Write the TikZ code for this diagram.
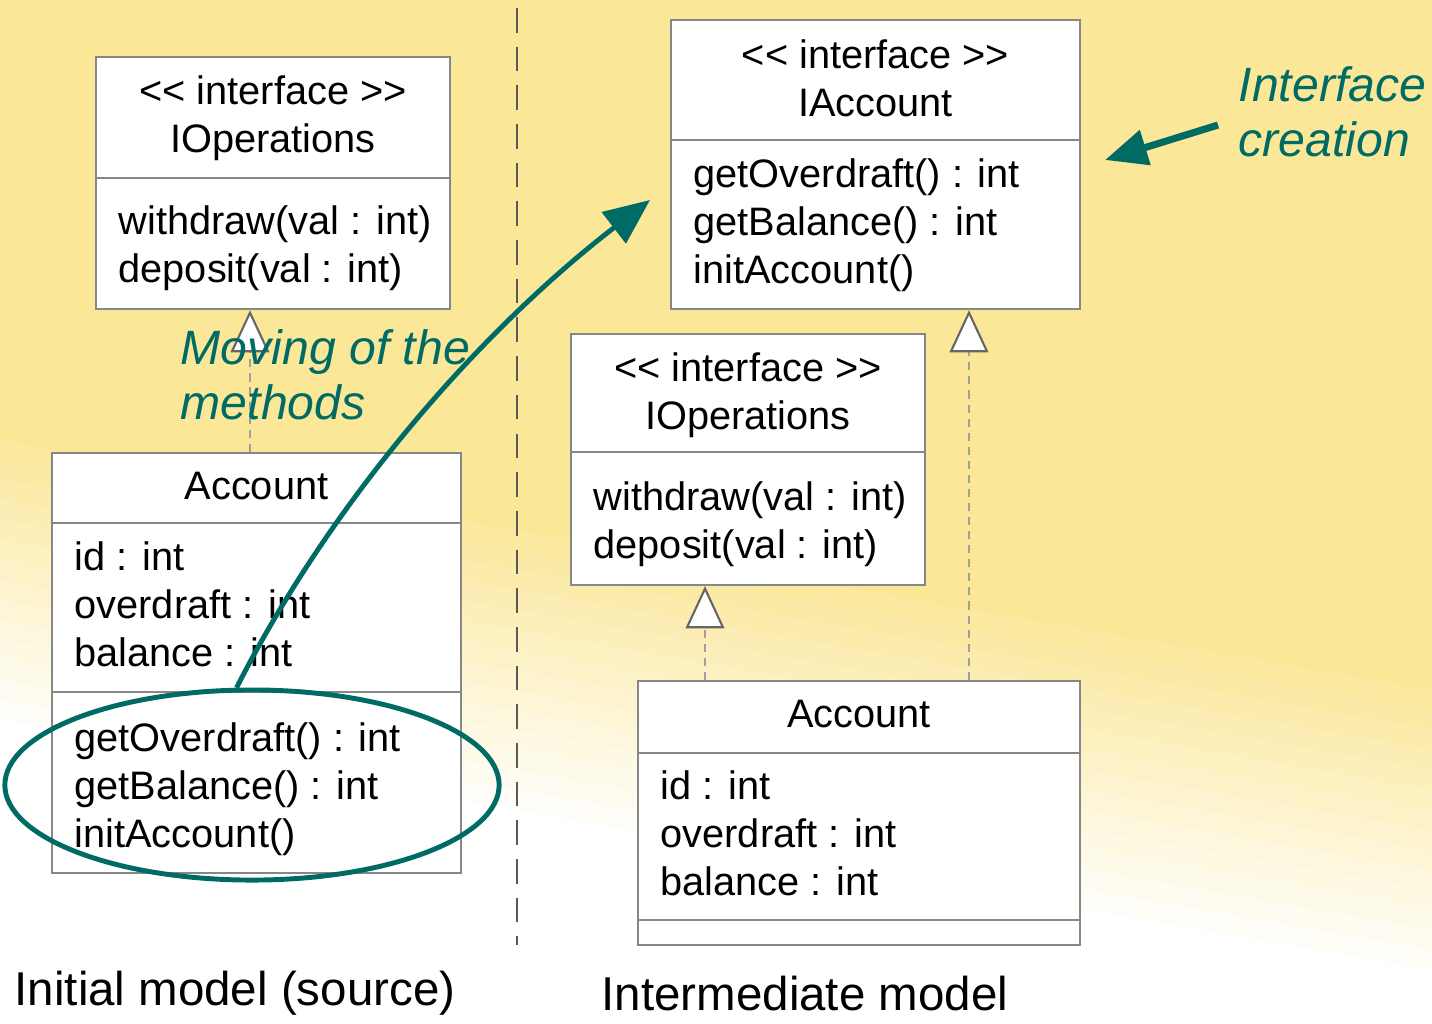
\documentclass[tikz,border=0pt]{standalone}
\usepackage{fontspec}
\setmainfont{Liberation Sans}
\usetikzlibrary{arrows.meta,shapes.geometric,calc}

\definecolor{bgyellow}{RGB}{250,231,152}
\definecolor{noteteal}{RGB}{0,106,101}
\definecolor{boxgray}{RGB}{135,135,135}

\tikzset{
    classbox/.style={draw=boxgray,fill=white,line width=0.6pt,inner sep=0pt},
    divider/.style={draw=boxgray,line width=0.6pt},
    member/.style={inner sep=0pt,font=\fontsize{11.3}{13.7}\selectfont},
    realize/.style={draw=gray!75,line width=0.8pt,dash pattern=on 2.3pt off 1.7pt,
        -{Triangle[length=12pt,width=11pt,color=black!60,fill=white,line width=0.6pt]}},
    sepline/.style={draw=black!65,line width=0.85pt,dash pattern=on 7pt off 4pt},
    note/.style={text=noteteal,font=\fontsize{13.7}{15.6}\selectfont\itshape,align=left,inner sep=0pt},
    caption/.style={inner sep=0pt,font=\fontsize{13.5}{16}\selectfont},
    move/.style={draw=noteteal,line width=1.4pt,-{Triangle[length=13pt,width=11pt]}},
    pointer/.style={draw=noteteal,line width=2pt,-{Triangle[length=12pt,width=10pt]}},
}

% stereotype brackets, kept apart so they stay two signs
\newcommand\stleft{<\kern0pt<}
\newcommand\stright{>\kern0pt>}

% one text line per member, 48 units apart
\newcommand\members[5]{%
    \foreach \m [count=\k] in {#5}
        \node[member,anchor=#2] (#1\k) at (#3,#4+48*\k-48) {\m};
}

\begin{document}
\begin{tikzpicture}[x=0.01cm,y=-0.01cm]
    \useasboundingbox (0,0) rectangle (1432,1023);

    % background
    \fill[bgyellow] (0,0) rectangle (1432,1023);
    \begin{scope}
        \clip (0,0) rectangle (1432,1023);
        \foreach \i in {0,...,15} {
            \pgfmathsetmacro\p{100-\i*100/15}
            \fill[bgyellow!\p!white] (0,420+\i*20) -- (1432,670+\i*20) -- (1432,1400) -- (0,1400) -- cycle;
        }
    \end{scope}

    \draw[sepline] (517,8) -- (517,945);

    % initial model
    \node[classbox,minimum width=3.54cm,minimum height=2.52cm] (lops) at (273,183) {};
    \draw[divider] (lops.west |- 0,178) -- (lops.east |- 0,178);
    \members{lopshead}{base}{273}{104}{\stleft\ interface \stright,IOperations}
    \members{lopsop}{base west}{118}{234}{withdraw(val : int),deposit(val : int)}

    \node[classbox,minimum width=4.09cm,minimum height=4.20cm] (lacc) at (256.5,663) {};
    \draw[divider] (lacc.west |- 0,523) -- (lacc.east |- 0,523);
    \draw[divider] (lacc.west |- 0,692) -- (lacc.east |- 0,692);
    \members{lacchead}{base}{256.5}{499}{Account}
    \members{laccattr}{base west}{74}{570}{id : int,overdraft : int,balance : int}
    \members{laccop}{base west}{74}{751}{getOverdraft() : int,getBalance() : int,initAccount()}

    \draw[realize] (250,0 |- lacc.north) -- (250,0 |- lops.south);

    % intermediate model
    \node[classbox,minimum width=4.09cm,minimum height=2.89cm] (riacc) at (875.5,164.5) {};
    \draw[divider] (riacc.west |- 0,140) -- (riacc.east |- 0,140);
    \members{riacchead}{base}{875.5}{68}{\stleft\ interface \stright,IAccount}
    \members{riaccop}{base west}{693}{187}{getOverdraft() : int,getBalance() : int,initAccount()}

    \node[classbox,minimum width=3.54cm,minimum height=2.51cm] (rops) at (748,459.5) {};
    \draw[divider] (rops.west |- 0,452) -- (rops.east |- 0,452);
    \members{ropshead}{base}{748}{381}{\stleft\ interface \stright,IOperations}
    \members{ropsop}{base west}{593}{510}{withdraw(val : int),deposit(val : int)}

    \node[classbox,minimum width=4.42cm,minimum height=2.64cm] (racc) at (859,813) {};
    \draw[divider] (racc.west |- 0,753) -- (racc.east |- 0,753);
    \draw[divider] (racc.west |- 0,920) -- (racc.east |- 0,920);
    \members{racchead}{base}{859}{727}{Account}
    \members{raccattr}{base west}{660}{799}{id : int,overdraft : int,balance : int}

    \draw[realize] (705,0 |- racc.north) -- (705,0 |- rops.south);
    \draw[realize] (969,0 |- racc.north) -- (969,0 |- riacc.south);

    % captions
    \node[caption,anchor=base west] (srccap) at (14,1005) {Initial model (source)};
    \node[caption,anchor=base west] (midcap) at (601,1010) {Intermediate model};

    % notes
    \node[note,anchor=north west] (moving) at (180,329) {Moving of the\\methods};
    \node[note,anchor=north west] (creation) at (1238,66) {Interface\\creation};

    \node[draw=noteteal,line width=1.4pt,ellipse,minimum width=4.94cm,minimum height=1.9cm,inner sep=0pt] (sel) at (252,785) {};
    \coordinate (newiface) at (650,200);
    \draw[move] (sel.99) .. controls (337,490) and (490,323) .. (newiface);

    \coordinate (ictail) at (1218,125);
    \coordinate (ictip) at (1105,160);
    \draw[pointer] (ictail) -- (ictip);
\end{tikzpicture}
\end{document}
